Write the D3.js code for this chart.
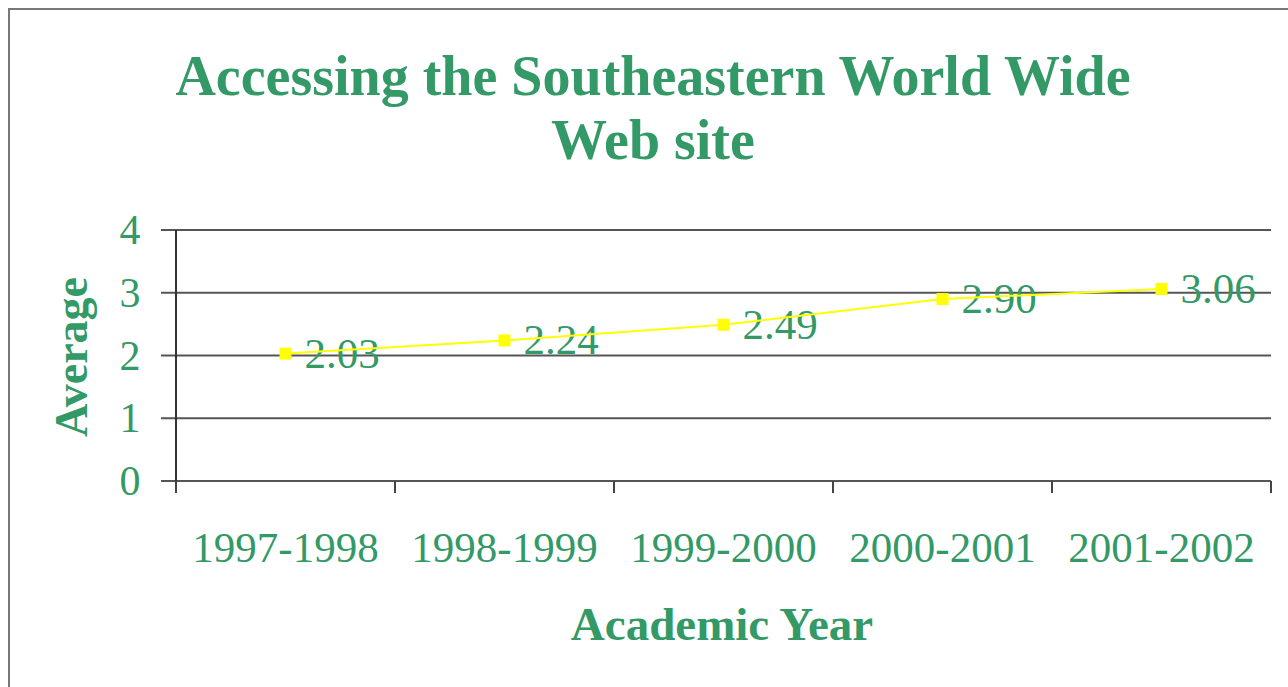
<!DOCTYPE html>
<html><head><meta charset="utf-8">
<script src="https://cdn.jsdelivr.net/npm/d3@7"></script>
<style>body{margin:0;background:#fff}svg{display:block}text{font-family:"Liberation Serif","Times New Roman",serif}</style>
</head><body>
<svg id="c" width="1288" height="687"></svg>
<script>
const categories = ["1997-1998","1998-1999","1999-2000","2000-2001","2001-2002"];
const values = [2.03, 2.24, 2.49, 2.90, 3.06];
const valueLabels = ["2.03","2.24","2.49","2.90","3.06"];
const yTicks = [0,1,2,3,4];
const titleLines = ["Accessing the Southeastern World Wide","Web site"];
const xTitle = "Academic Year";
const yTitle = "Average";

const green = "#339966";
const svg = d3.select("#c");
const L = 176, R = 1271, T = 230, B = 481;

svg.append("rect").attr("x",0).attr("y",0).attr("width",1288).attr("height",687).attr("fill","#fff");
svg.append("path").attr("d","M9,687V9H1288").attr("fill","none").attr("stroke","#777").attr("stroke-width",2);

const x = d3.scaleBand().domain(categories).range([L,R]).padding(0);
const y = d3.scaleLinear().domain([0,4]).range([B,T]);

// gridlines
svg.append("g").selectAll("line").data(yTicks).join("line")
  .attr("x1",L-15).attr("x2",R).attr("y1",d=>y(d)).attr("y2",d=>y(d))
  .attr("stroke","#555").attr("stroke-width",2);

// y axis line
svg.append("line").attr("x1",L).attr("x2",L).attr("y1",T).attr("y2",B+12).attr("stroke","#333").attr("stroke-width",2);
// x axis ticks
const bounds = categories.map(c=>x(c)).concat([R]);
svg.append("g").selectAll("line").data(bounds).join("line")
  .attr("x1",d=>d).attr("x2",d=>d).attr("y1",B).attr("y2",B+12)
  .attr("stroke","#444").attr("stroke-width",2);

// y tick labels
svg.append("g").selectAll("text").data(yTicks).join("text")
  .attr("x",L-46).attr("y",d=>y(d)+14).attr("text-anchor","middle")
  .attr("font-size",42).attr("fill",green).text(d=>d);

// x tick labels
svg.append("g").selectAll("text").data(categories).join("text")
  .attr("x",d=>x(d)+x.bandwidth()/2).attr("y",562).attr("text-anchor","middle")
  .attr("font-size",43).attr("fill",green).text(d=>d);

// titles
svg.append("g").selectAll("text").data(titleLines).join("text")
  .attr("x",653).attr("y",(d,i)=>95+i*64).attr("text-anchor","middle")
  .attr("font-size",56).attr("font-weight","bold").attr("fill",green).text(d=>d);
svg.append("text").attr("x",722).attr("y",640).attr("text-anchor","middle")
  .attr("font-size",47).attr("font-weight","bold").attr("fill",green).text(xTitle);
svg.append("text").attr("transform","translate(87,357) rotate(-90)").attr("text-anchor","middle")
  .attr("font-size",46).attr("font-weight","bold").attr("fill",green).text(yTitle);

const cx = d=>x(d)+x.bandwidth()/2;
// value labels
svg.append("g").selectAll("text").data(values).join("text")
  .attr("x",(d,i)=>cx(categories[i])+19).attr("y",d=>y(d)+14)
  .attr("font-size",43).attr("fill",green).text((d,i)=>valueLabels[i]);

// line
svg.append("path").datum(values)
  .attr("d",d3.line().x((d,i)=>cx(categories[i])).y(d=>y(d)))
  .attr("fill","none").attr("stroke","#ffff00").attr("stroke-width",2);
svg.append("g").selectAll("rect").data(values).join("rect")
  .attr("x",(d,i)=>cx(categories[i])-6).attr("y",d=>y(d)-6).attr("width",12).attr("height",12)
  .attr("fill","#ffff00");
</script>
</body></html>
